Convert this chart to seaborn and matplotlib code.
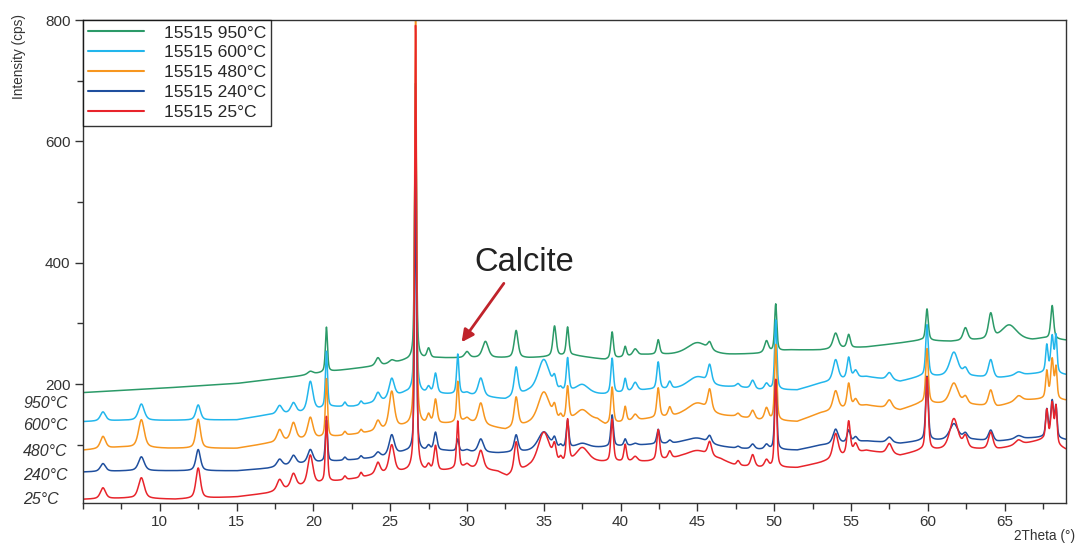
import numpy as np
import pandas as pd
import matplotlib
matplotlib.use("Agg")
import matplotlib.pyplot as plt
from matplotlib.ticker import MultipleLocator
import seaborn as sns

# Reflection positions (2theta, deg) and peak widths (FWHM, deg)
peak_pos = [6.3, 8.8, 12.5, 17.8, 18.7, 19.8, 20.85, 22.05, 23.1, 24.2, 25.1, 26.65,
            27.5, 27.95, 29.4, 30.0, 30.9, 31.2, 33.2, 35.0, 35.7, 36.1, 36.55, 37.5,
            39.45, 40.3, 40.95, 42.45, 43.2, 45.0, 45.8, 47.65, 48.6, 49.5, 50.1, 54.0,
            54.85, 55.3, 57.5, 59.95, 61.7, 62.45, 64.1, 65.3, 65.9, 67.75, 68.1, 68.35]
peak_fwhm = [0.4, 0.45, 0.35, 0.4, 0.4, 0.4, 0.16, 0.2, 0.2, 0.35, 0.4, 0.14,
             0.25, 0.25, 0.18, 0.35, 0.4, 0.45, 0.3, 0.9, 0.25, 0.2, 0.2, 1.0,
             0.2, 0.2, 0.35, 0.22, 0.25, 1.6, 0.3, 0.25, 0.3, 0.3, 0.17, 0.4,
             0.25, 0.3, 0.4, 0.2, 0.65, 0.35, 0.35, 1.2, 0.5, 0.18, 0.22, 0.16]

# Peak heights above background (cps) for each firing temperature
amp_950 = [0, 0, 0, 0, 0, 5, 74, 0, 0, 13, 5, 455, 16, 0, 0, 10, 0, 27, 45, 0, 50, 0, 47, 0,
           44, 17, 11, 24, 0, 20, 12, 0, 0, 19, 78, 26, 22, 0, 0, 52, 0, 21, 42, 25, 0, 0, 55, 0]
amp_600 = [15, 27, 25, 14, 17, 49, 93, 7, 6, 15, 32, 505, 10, 33, 66, 3, 30, 0, 47, 55, 18, 5, 55, 15,
           58, 22, 14, 45, 12, 20, 30, 5, 14, 10, 115, 35, 35, 12, 12, 85, 40, 12, 30, 0, 5, 45, 60, 60]
amp_480 = [20, 46, 48, 20, 29, 35, 96, 6, 6, 16, 61, 690, 15, 40, 67, 5, 35, 0, 49, 52, 20, 8, 55, 18,
           60, 25, 10, 49, 15, 22, 35, 5, 14, 20, 125, 32, 40, 12, 14, 90, 35, 12, 27, 0, 8, 45, 65, 50]
amp_240 = [13, 23, 35, 12, 15, 22, 68, 5, 5, 8, 33, 455, 8, 30, 20, 3, 22, 0, 28, 31, 15, 5, 45, 8,
           52, 11, 3, 24, 5, 11, 12, 3, 8, 8, 115, 24, 20, 8, 9, 106, 27, 10, 18, 0, 5, 45, 60, 50]
amp_25 = [18, 34, 50, 18, 23, 49, 108, 6, 8, 19, 46, 735, 10, 42, 78, 5, 31, 0, 50, 57, 25, 8, 70, 26,
          70, 28, 8, 50, 12, 13, 23, 8, 20, 12, 145, 41, 55, 15, 17, 120, 51, 20, 28, 0, 8, 50, 65, 60]

# Background levels (2theta, cps), stacked offsets included
bg_950_x = [5, 10, 15, 19, 21.5, 24.5, 26, 28, 34, 37, 39, 41.5, 47, 49, 51, 53, 56, 58, 59.5, 61.5, 63.2, 66.8, 67.5, 69]
bg_950_y = [186, 193, 201, 213, 222, 231, 239, 243, 243, 247, 240, 248, 248, 250, 256, 256, 261, 267, 272, 270, 272, 272, 275, 272]
bg_600_x = [5, 7.5, 10, 15, 17, 19.2, 21.3, 22.6, 24.6, 26, 30, 32.5, 34, 39, 41.8, 44, 47.5, 49, 51.5, 53, 56, 58.2, 59.5, 63, 64.5, 66, 67.5, 69]
bg_600_y = [138, 140, 140, 141, 149, 152, 162, 163, 172, 185, 182, 174, 185, 182, 190, 190, 195, 190, 190, 201, 212, 204, 212, 212, 209, 215, 218, 215]
bg_480_x = [5, 7.5, 10.5, 15, 17, 19.2, 21.3, 23, 24.6, 26, 29, 30, 32.5, 34, 38.5, 39, 41.8, 44, 47.5, 49, 51.5, 53, 56, 58.2, 59.5, 63, 64.5, 66, 67.5, 69]
bg_480_y = [91, 96, 94, 94, 102, 108, 113, 118, 124, 130, 135, 138, 124, 132, 140, 132, 142, 146, 146, 140, 138, 152, 165, 157, 168, 165, 162, 173, 175, 173]
bg_240_x = [5, 8, 15, 17, 19, 21, 23, 24.6, 26, 28.5, 30, 32, 34, 38.5, 41.8, 44, 47.5, 49, 51.5, 53, 56, 58.2, 59.5, 63, 64.5, 66, 67.5, 69]
bg_240_y = [55, 57, 57, 61, 68, 72, 76, 80, 88, 90, 88, 86, 88, 95, 100, 102, 94, 92, 91, 99, 106, 102, 106, 108, 105, 110, 112, 108]
bg_25_x = [5, 8, 11, 15, 17, 19, 21, 23, 24, 26, 28, 30, 32, 32.6, 34, 38.5, 41.8, 44, 46.5, 47.5, 49, 51.5, 53, 56, 58.2, 59.5, 63, 64.5, 66, 67.5, 69]
bg_25_y = [10, 12, 10, 14, 20, 30, 38, 45, 50, 55, 55, 62, 55, 47, 60, 70, 72, 78, 75, 65, 62, 62, 70, 90, 82, 90, 92, 92, 100, 108, 92]

series_names = ["15515 950°C", "15515 600°C", "15515 480°C", "15515 240°C", "15515 25°C"]
series_colors = ["#2b9a68", "#22b6ec", "#f7961f", "#1f4f9e", "#e8242b"]
side_labels = ["950°C", "600°C", "480°C", "240°C", "25°C"]

amps = [amp_950, amp_600, amp_480, amp_240, amp_25]
bgs = [(bg_950_x, bg_950_y), (bg_600_x, bg_600_y), (bg_480_x, bg_480_y),
       (bg_240_x, bg_240_y), (bg_25_x, bg_25_y)]


def pattern(two_theta, amp, bg):
    """Pseudo-Voigt reflections on a piecewise background."""
    y = np.interp(two_theta, bg[0], bg[1]).astype(float)
    eta = 0.55
    for c, w, a in zip(peak_pos, peak_fwhm, amp):
        if a == 0:
            continue
        d = (two_theta - c) / (w / 2.0)
        lor = 1.0 / (1.0 + d ** 2)
        gau = np.exp(-np.log(2.0) * d ** 2)
        y += a * (eta * lor + (1 - eta) * gau)
    return y


two_theta = np.arange(5.0, 69.0001, 0.01)
frames = []
for name, amp, bg in zip(series_names, amps, bgs):
    frames.append(pd.DataFrame({"2theta": two_theta,
                                "intensity": pattern(two_theta, amp, bg),
                                "sample": name}))
df = pd.concat(frames, ignore_index=True)

sns.set_theme(style="ticks")
plt.rcParams["font.family"] = ["Liberation Sans", "DejaVu Sans"]

fig = plt.figure(figsize=(10.77, 5.44), dpi=100)
ax = fig.add_axes([83 / 1077, 1 - 503 / 544, (1066 - 83) / 1077, (503 - 20) / 544])

sns.lineplot(data=df, x="2theta", y="intensity", hue="sample",
             hue_order=series_names, palette=series_colors,
             estimator=None, linewidth=1.1, ax=ax)

ax.set_xlim(5, 69)
ax.set_ylim(4, 800)
ax.xaxis.set_minor_locator(MultipleLocator(2.5))
ax.yaxis.set_minor_locator(MultipleLocator(100))
ax.set_xticks([10, 15, 20, 25, 30, 35, 40, 45, 50, 55, 60, 65])
ax.set_yticks([200, 400, 600, 800])

for side in ["left", "bottom", "top", "right"]:
    ax.spines[side].set_color("#333333")
    ax.spines[side].set_linewidth(1.0)
ax.tick_params(axis="both", which="major", direction="out", length=6, width=1,
               color="#333333", labelcolor="#333333", labelsize=11, pad=3)
ax.tick_params(axis="both", which="minor", direction="out", length=4, width=1,
               color="#333333")

ax.set_ylabel("Intensity (cps)", fontsize=9.8, color="#333333", loc="top")
ax.yaxis.set_label_coords(-0.058, 1.012)
ax.set_xlabel("")
fig.text(1075 / 1077, 1 - 536 / 544, "2Theta (°)", ha="right", va="center",
         fontsize=9.8, color="#333333")

leg = ax.legend(loc="upper left", frameon=True, fancybox=False, edgecolor="black",
                fontsize=12.6, handlelength=3.2, handletextpad=1.1,
                labelspacing=0.27, borderpad=0.3, borderaxespad=0.0)
leg.get_frame().set_linewidth(1.0)
for line in leg.get_lines():
    line.set_linewidth(1.5)

label_y = [403, 426, 452, 476, 499]
for text, yp in zip(side_labels, label_y):
    fig.text(23 / 1077, 1 - yp / 544, text, ha="left", va="center",
             fontsize=11.5, style="italic", color="#333333")

ax.text(33.7, 400, "Calcite", ha="center", va="center", fontsize=23.5, color="#222222")
ax.annotate("", xy=(29.65, 269), xytext=(32.4, 366),
            arrowprops=dict(arrowstyle="-|>", color="#c0232b", lw=2.0,
                            mutation_scale=18, shrinkA=0, shrinkB=0))

fig.savefig("out.png", dpi=100)
